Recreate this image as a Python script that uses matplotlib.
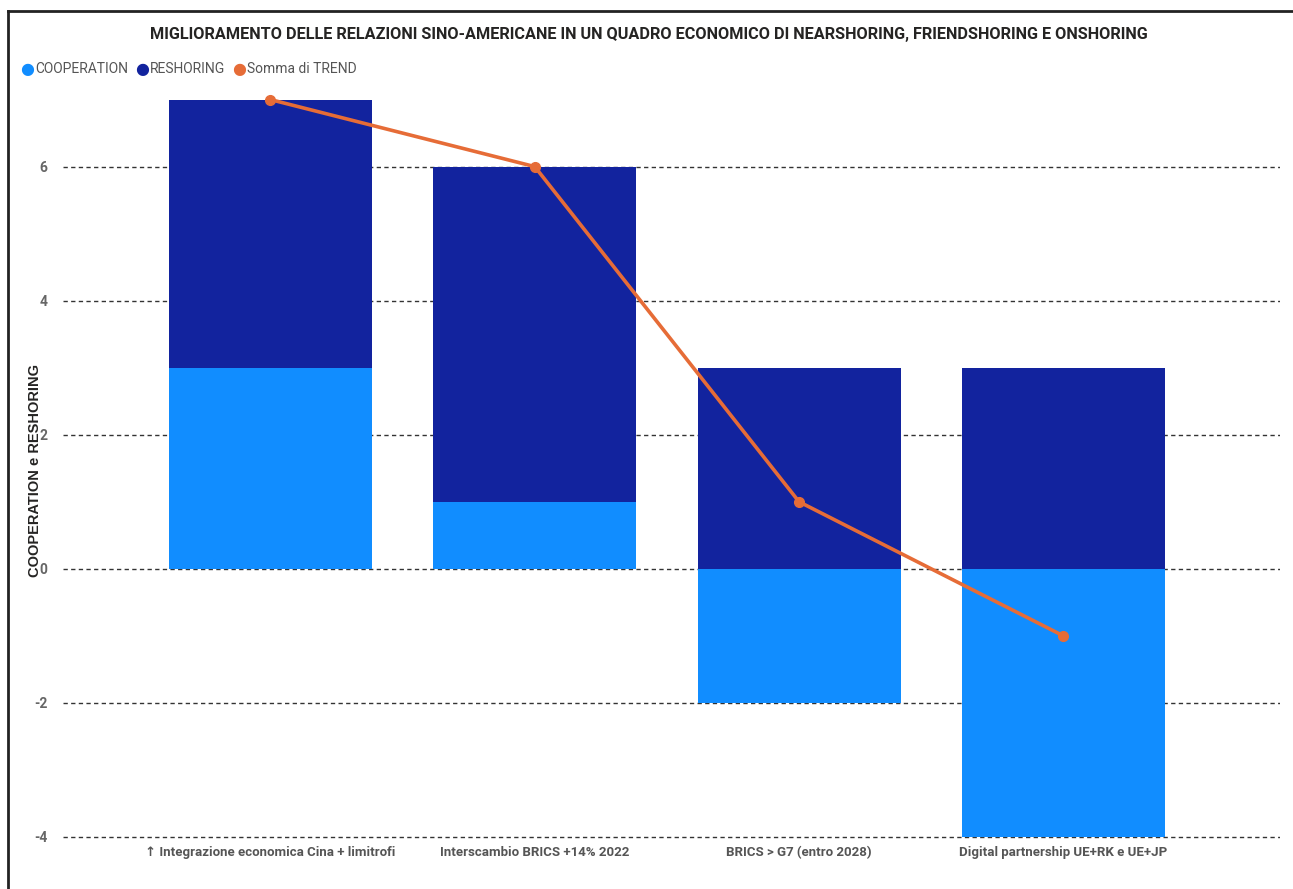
import matplotlib
matplotlib.use("Agg")
import matplotlib.pyplot as plt
from matplotlib.lines import Line2D
import numpy as np

categories = [
    "\u2191 Integrazione economica Cina + limitrofi",
    "Interscambio BRICS +14% 2022",
    "BRICS > G7 (entro 2028)",
    "Digital partnership UE+RK e UE+JP",
]
cooperation = [3, 1, -2, -4]
reshoring = [4, 5, 3, 3]
trend = [7, 6, 1, -1]
y_ticks = [-4, -2, 0, 2, 4, 6]

C_COOP = "#118DFF"
C_RESH = "#12239E"
C_TREND = "#E66C37"
FONT = ["Roboto", "DejaVu Sans"]

fig = plt.figure(figsize=(12.93, 8.89), dpi=100)
ax = fig.add_axes([0.0487, 0.0563, 0.9413, 0.8543])

x = np.arange(len(categories))
coop = np.array(cooperation, dtype=float)
resh = np.array(reshoring, dtype=float)
# positives and negatives stack separately
resh_bottom = np.where(resh >= 0, np.maximum(coop, 0), np.minimum(coop, 0))

ax.bar(x, coop, width=0.768, color=C_COOP, zorder=2)
ax.bar(x, resh, bottom=resh_bottom, width=0.768, color=C_RESH, zorder=2)
ax.plot(x, trend, color=C_TREND, lw=2.6, marker="o", ms=7, zorder=3)

ax.set_xlim(-0.785, 3.82)
ax.set_ylim(-4.03, 7.3)
ax.set_yticks(y_ticks)
ax.set_yticklabels([str(v) for v in y_ticks], family=FONT, fontsize=10,
                   fontweight="bold", color="#666666")
ax.set_xticks(x)
ax.set_xticklabels(categories, family=FONT, fontsize=9.5, fontweight="bold",
                   color="#555555")
ax.tick_params(axis="both", length=0)
ax.tick_params(axis="y", pad=11)
ax.tick_params(axis="x", pad=5)

ax.grid(axis="y", linestyle=(0, (3.1, 2.4)), color="#333333", lw=1.0, zorder=1)
ax.set_axisbelow(True)
for s in ax.spines.values():
    s.set_visible(False)

ax.set_ylabel("COOPERATION e RESHORING", family=["Liberation Sans", "DejaVu Sans"],
              fontsize=10.5, fontweight="bold", color="#252423")
ax.yaxis.set_label_coords(-0.0175, 0.485)

fig.text(0.502, 0.961,
         "MIGLIORAMENTO DELLE RELAZIONI SINO-AMERICANE IN UN QUADRO ECONOMICO DI NEARSHORING, FRIENDSHORING E ONSHORING",
         ha="center", va="center", family=FONT, fontsize=11.7, fontweight="bold",
         color="#252423")

# legend row
legend_items = [("COOPERATION", C_COOP), ("RESHORING", C_RESH), ("Somma di TREND", C_TREND)]
lx = 0.0155
ly = 0.922
renderer = fig.canvas.get_renderer()
for label, col in legend_items:
    m = fig.text(lx, ly, "\u25CF", color=col, fontsize=11.5, ha="left", va="center",
                 family=["DejaVu Sans"])
    mb = m.get_window_extent(renderer=renderer)
    t = fig.text(mb.x1 / fig.bbox.width + 0.001, ly, label, color="#555555",
                 fontsize=10, ha="left", va="center", family=FONT)
    bb = t.get_window_extent(renderer=renderer)
    lx = bb.x1 / fig.bbox.width + 0.005

# outer frame on top and left
fig.add_artist(Line2D([0.006, 1.0], [0.9876, 0.9876], color="#222222", lw=2,
                      transform=fig.transFigure))
fig.add_artist(Line2D([0.0065, 0.0065], [0.0, 0.9876], color="#222222", lw=2,
                      transform=fig.transFigure))

fig.savefig("out.png", dpi=100)
